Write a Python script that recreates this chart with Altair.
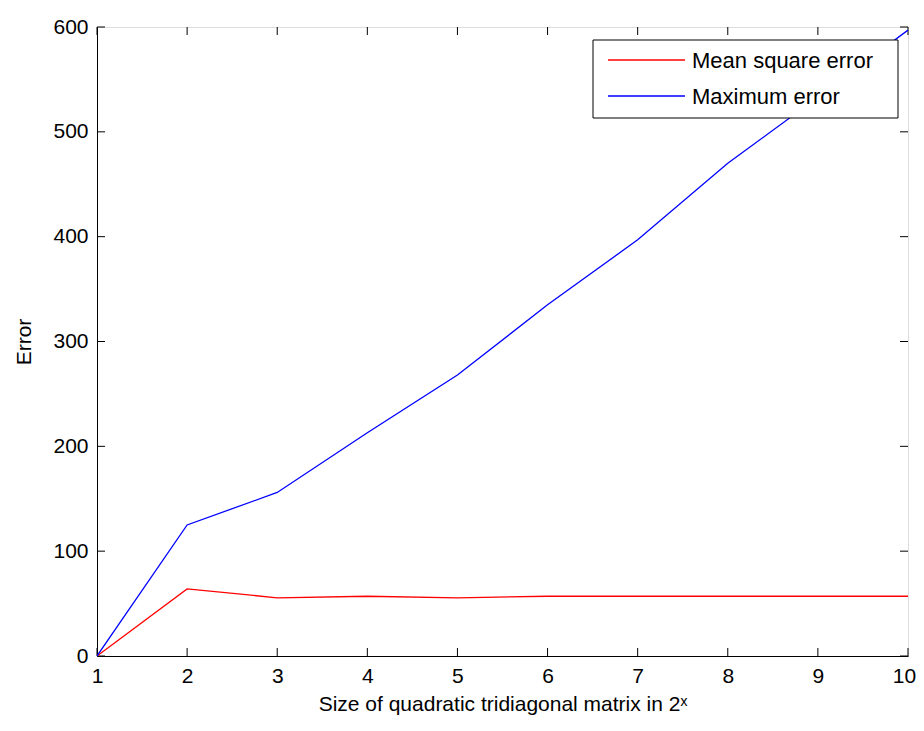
import altair as alt
import pandas as pd

# data
sizes = [1, 2, 3, 4, 5, 6, 7, 8, 9, 10]
mean_square_error = [0, 64, 55.5, 57, 55.5, 57, 57, 57, 57, 57]
maximum_error = [0, 125, 156, 213, 268, 335, 397, 470, 533, 597]
series_names = ["Mean square error", "Maximum error"]
series_colors = ["#ff0000", "#0000ff"]
x_ticks = [1, 2, 3, 4, 5, 6, 7, 8, 9, 10]
y_ticks = [0, 100, 200, 300, 400, 500, 600]

W, H = 811, 629
FONT = "Liberation Sans"
FS = 21

rows = []
for s, m, e in zip(sizes, mean_square_error, maximum_error):
    rows.append({"x": s, "y": m, "series": series_names[0]})
    rows.append({"x": s, "y": e, "series": series_names[1]})
df = pd.DataFrame(rows)

xscale = alt.Scale(domain=[1, 10], nice=False, zero=False)
yscale = alt.Scale(domain=[0, 600], nice=False)

lines = alt.Chart(df).mark_line(strokeWidth=1.3, clip=True).encode(
    x=alt.X("x:Q", scale=xscale,
            axis=alt.Axis(values=x_ticks, format="d",
                          title="Size of quadratic tridiagonal matrix in 2ˣ",
                          ticks=False, tickSize=0, labelPadding=9,
                          labelOffset={"expr": "datum.value == 10 ? -4 : 0"},
                          titleY=54, titleBaseline="alphabetic",
                          grid=False, domainColor="black", labelColor="black",
                          titleColor="black", labelFontSize=FS, titleFontSize=FS,
                          labelFont=FONT, titleFont=FONT, titleFontWeight="normal",
                          labelFlush=False)),
    y=alt.Y("y:Q", scale=yscale,
            axis=alt.Axis(values=y_ticks, format="d", title="Error", ticks=False,
                          tickSize=0, labelPadding=9, titlePadding=18, grid=False,
                          domainColor="black", labelColor="black", titleColor="black",
                          labelFontSize=FS, titleFontSize=FS, labelFont=FONT,
                          titleFont=FONT, titleFontWeight="normal", labelFlush=False)),
    color=alt.Color("series:N",
                    scale=alt.Scale(domain=series_names, range=series_colors),
                    legend=None),
)

xt = pd.DataFrame({"x": x_ticks})
yt = pd.DataFrame({"y": y_ticks})

bottom_ticks = alt.Chart(xt).mark_rule(color="black", strokeWidth=1).encode(
    x=alt.X("x:Q", scale=xscale), y=alt.value(H), y2=alt.value(H - 8))
top_ticks = alt.Chart(xt).mark_rule(color="black", strokeWidth=1).encode(
    x=alt.X("x:Q", scale=xscale), y=alt.value(0), y2=alt.value(8))
left_ticks = alt.Chart(yt).mark_rule(color="black", strokeWidth=1).encode(
    y=alt.Y("y:Q", scale=yscale), x=alt.value(0), x2=alt.value(8))
right_ticks = alt.Chart(yt).mark_rule(color="black", strokeWidth=1).encode(
    y=alt.Y("y:Q", scale=yscale), x=alt.value(W), x2=alt.value(W - 8))

# legend box (drawn by hand, MATLAB style)
LX0, LX1, LY0, LY1 = 496, 801, 13, 91
legend_layers = [
    alt.Chart(pd.DataFrame({"a": [0]})).mark_rect(
        fill="white", stroke="black", strokeWidth=1).encode(
        x=alt.value(LX0), x2=alt.value(LX1), y=alt.value(LY0), y2=alt.value(LY1))
]
row_y = [33, 69]
for name, col, ry in zip(series_names, series_colors, row_y):
    ld = pd.DataFrame({"series": [name]})
    legend_layers.append(
        alt.Chart(ld).mark_rule(color=col, strokeWidth=1.5).encode(
            x=alt.value(511), x2=alt.value(588), y=alt.value(ry)))
    legend_layers.append(
        alt.Chart(ld).mark_text(align="left", baseline="middle", font=FONT,
                                fontSize=22, color="black").encode(
            x=alt.value(595), y=alt.value(ry + 1), text="series:N"))

chart = alt.layer(bottom_ticks, top_ticks, left_ticks, right_ticks, lines,
                  *legend_layers).properties(
    width=W, height=H,
    autosize=alt.AutoSizeParams(type="none"),
    padding={"left": 89, "top": 19, "right": 8, "bottom": 62},
).configure_view(stroke="black", strokeWidth=1).configure(background="white")

chart.save("out.html", embed_options={"renderer": "svg", "actions": False})
